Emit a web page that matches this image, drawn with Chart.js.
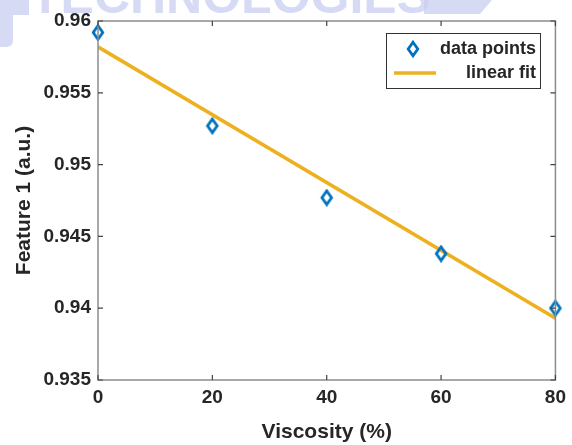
<!DOCTYPE html>
<html>
<head>
<meta charset="utf-8">
<script src="https://cdn.jsdelivr.net/npm/chart.js@4/dist/chart.umd.min.js"></script>
<style>
  html, body { margin: 0; padding: 0; background: #fff; }
  #chart { display: block; }
</style>
</head>
<body>
<canvas id="chart" width="572" height="445"></canvas>
<script>
// viscosity levels (%) and the measured feature
const viscosity = [0, 20, 40, 60, 80];
const feature = [0.9592, 0.9527, 0.9477, 0.9438, 0.9400];

// end points of the fitted line
const fitX = [0, 80];
const fitY = [0.9582, 0.9393];

const xTicks = [0, 20, 40, 60, 80];
const yTicks = [0.935, 0.94, 0.945, 0.95, 0.955, 0.96];

const blue = '#0072BD';
const gold = '#EDB120';
const textColor = '#262626';
const boxColor = '#8c8c8c';

// open diamond, a bit taller than wide
function makeDiamond() {
  const c = document.createElement('canvas');
  c.width = 16;
  c.height = 18;
  const g = c.getContext('2d');
  g.strokeStyle = blue;
  g.lineWidth = 2.8;
  g.beginPath();
  g.moveTo(8, 2.2);
  g.lineTo(12.8, 9);
  g.lineTo(8, 15.8);
  g.lineTo(3.2, 9);
  g.closePath();
  g.stroke();
  return c;
}
const diamond = makeDiamond();

// faint banner along the top edge
const bannerPlugin = {
  id: 'banner',
  beforeDraw(chart) {
    const ctx = chart.ctx;
    ctx.save();
    ctx.fillStyle = 'rgba(200, 206, 240, 0.75)';
    ctx.beginPath();
    ctx.moveTo(0, 0);
    ctx.lineTo(13, 0);
    ctx.lineTo(13, 40);
    ctx.quadraticCurveTo(13, 47, 6, 47);
    ctx.lineTo(0, 47);
    ctx.closePath();
    ctx.fill();
    ctx.fillRect(13, 0, 16, 15);
    ctx.font = 'bold 50px "Liberation Sans", Arial, sans-serif';
    ctx.textBaseline = 'alphabetic';
    ctx.fillText('TECHNOLOGIES', 30, 13);
    ctx.beginPath();
    ctx.moveTo(424, 0);
    ctx.lineTo(492, 0);
    ctx.lineTo(480, 14);
    ctx.lineTo(424, 14);
    ctx.closePath();
    ctx.fill();
    ctx.restore();
  }
};

// box round the axes with inward ticks on all four sides
const boxPlugin = {
  id: 'box',
  afterDatasetsDraw(chart) {
    const {ctx, chartArea: a, scales: {x, y}} = chart;
    const len = 5;
    ctx.save();
    ctx.strokeStyle = boxColor;
    ctx.lineWidth = 1.5;
    ctx.strokeRect(a.left, a.top, a.right - a.left, a.bottom - a.top);
    ctx.lineWidth = 1.2;
    ctx.strokeStyle = '#444';
    ctx.beginPath();
    xTicks.forEach(v => {
      const px = x.getPixelForValue(v);
      ctx.moveTo(px, a.bottom); ctx.lineTo(px, a.bottom - len);
      ctx.moveTo(px, a.top); ctx.lineTo(px, a.top + len);
    });
    yTicks.forEach(v => {
      const py = y.getPixelForValue(v);
      ctx.moveTo(a.left, py); ctx.lineTo(a.left + len, py);
      ctx.moveTo(a.right, py); ctx.lineTo(a.right - len, py);
    });
    ctx.stroke();
    ctx.restore();
  }
};

// legend box in the upper right corner of the axes
const legendBoxPlugin = {
  id: 'legendBox',
  afterDraw(chart) {
    const ctx = chart.ctx;
    const ds = chart.data.datasets;
    const left = 386, top = 33, right = 541, bottom = 89;
    ctx.save();
    ctx.fillStyle = '#fff';
    ctx.fillRect(left, top, right - left, bottom - top);
    ctx.strokeStyle = '#333';
    ctx.lineWidth = 1;
    ctx.strokeRect(left + 0.5, top + 0.5, right - left - 1, bottom - top - 1);

    ctx.drawImage(diamond, 413 - 8, 49 - 9);
    ctx.strokeStyle = ds[1].borderColor;
    ctx.lineWidth = ds[1].borderWidth;
    ctx.beginPath();
    ctx.moveTo(394, 73);
    ctx.lineTo(436, 73);
    ctx.stroke();

    ctx.fillStyle = textColor;
    ctx.font = 'bold 18px "Liberation Sans", Arial, sans-serif';
    ctx.textAlign = 'right';
    ctx.textBaseline = 'middle';
    ctx.fillText(ds[0].label, 536, 49);
    ctx.fillText(ds[1].label, 536, 73);
    ctx.restore();
  }
};

const tickFont = { family: '"Liberation Sans", Arial, sans-serif', size: 19, weight: 'bold' };
const titleFont = { family: '"Liberation Sans", Arial, sans-serif', size: 21, weight: 'bold' };

new Chart(document.getElementById('chart'), {
  type: 'scatter',
  data: {
    datasets: [
      {
        label: 'data points',
        data: viscosity.map((v, i) => ({ x: v, y: feature[i] })),
        pointStyle: diamond,
        pointRadius: 7,
        borderColor: blue,
        backgroundColor: blue,
        clip: false,
        order: 0
      },
      {
        type: 'line',
        label: 'linear fit',
        data: fitX.map((v, i) => ({ x: v, y: fitY[i] })),
        borderColor: gold,
        borderWidth: 3.5,
        pointRadius: 0,
        fill: false,
        order: 1
      }
    ]
  },
  options: {
    responsive: false,
    animation: false,
    layout: { padding: { top: 21, right: 15, left: 0, bottom: 0 } },
    plugins: {
      legend: { display: false },
      tooltip: { enabled: false }
    },
    scales: {
      x: {
        type: 'linear',
        min: 0,
        max: 80,
        afterFit(scale) { scale.height = 65; },
        afterBuildTicks(scale) { scale.ticks = xTicks.map(v => ({ value: v })); },
        grid: { display: false, drawTicks: false },
        border: { display: false },
        ticks: { color: textColor, font: tickFont, padding: 6 },
        title: {
          display: true,
          text: 'Viscosity (%)',
          color: textColor,
          font: titleFont,
          padding: { top: 0, bottom: 0 }
        }
      },
      y: {
        type: 'linear',
        min: 0.935,
        max: 0.96,
        afterFit(scale) { scale.width = 98; },
        afterBuildTicks(scale) { scale.ticks = yTicks.map(v => ({ value: v })); },
        grid: { display: false, drawTicks: false },
        border: { display: false },
        ticks: {
          color: textColor,
          font: tickFont,
          padding: 7,
          callback: v => String(Number(v.toFixed(3)))
        },
        title: {
          display: true,
          text: 'Feature 1 (a.u.)',
          color: textColor,
          font: titleFont,
          padding: { top: 12, bottom: 0 }
        }
      }
    }
  },
  plugins: [bannerPlugin, boxPlugin, legendBoxPlugin]
});
</script>
</body>
</html>
